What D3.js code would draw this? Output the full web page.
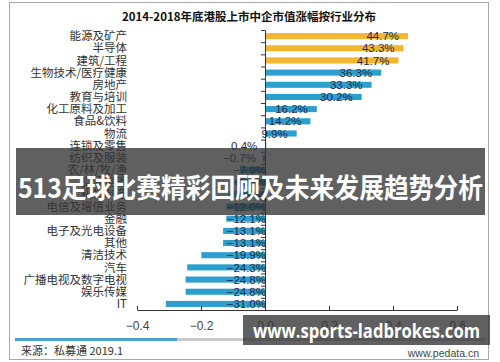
<!DOCTYPE html>
<html>
<head>
<meta charset="utf-8">
<script src="https://cdn.jsdelivr.net/npm/d3@7/dist/d3.min.js"></script>
<style>
  body { margin: 0; background: #fff; }
  svg { display: block; }
</style>
</head>
<body>
<svg id="chart"></svg>
<script>
// 行业分类（由上到下）
const categories = [
  "能源及矿产", "半导体", "建筑/工程", "生物技术/医疗健康", "房地产",
  "教育与培训", "化工原料及加工", "食品&饮料", "物流", "连锁及零售",
  "纺织及服装", "农/林/牧/渔", "交通运输", "机械制造", "电信及增值业务",
  "金融", "电子及光电设备", "其他", "清洁技术", "汽车",
  "广播电视及数字电视", "娱乐传媒", "IT"
];
// 市值涨幅
const values = [
  0.447, 0.433, 0.417, 0.363, 0.333,
  0.302, 0.162, 0.142, 0.099, 0.004,
  -0.007, -0.079, -0.094, -0.113, -0.120,
  -0.121, -0.131, -0.131, -0.199, -0.243,
  -0.248, -0.248, -0.310
];
const topSectors = ["能源及矿产", "半导体", "建筑/工程"];
const xTicks = [-0.4, -0.2, 0.0, 0.2, 0.4, 0.6];

const width = 500, height = 362;
const cjk = "'Noto Sans CJK SC', sans-serif";
const latin = "'Liberation Sans', Arial, sans-serif";

const svg = d3.select("#chart").attr("width", width).attr("height", height);

// 外框
svg.append("rect")
  .attr("x", 9.5).attr("y", 2.5).attr("width", 479).attr("height", 357)
  .attr("fill", "#fff").attr("stroke", "#a8a8a8");

// 标题
svg.append("text")
  .attr("x", 249).attr("y", 21)
  .attr("text-anchor", "middle")
  .attr("font-family", cjk).attr("font-weight", "bold")
  .attr("font-size", 11.5).attr("fill", "#111")
  .text("2014-2018年底港股上市中企市值涨幅按行业分布");

const x = d3.scaleLinear().domain([-0.4, 0.6]).range([137, 457]);
const y = d3.scaleBand().domain(categories).range([30, 310]).paddingInner(0.5).paddingOuter(0.25);
const yIdx = d3.scaleLinear().domain([0, categories.length]).range([30, 310]);

const data = categories.map((c, i) => ({ name: c, value: values[i] }));

// 条形
svg.append("g").selectAll("rect")
  .data(data).join("rect")
  .attr("x", d => x(Math.min(0, d.value)))
  .attr("y", d => y(d.name))
  .attr("width", d => Math.abs(x(d.value) - x(0)))
  .attr("height", y.bandwidth())
  .attr("fill", d => topSectors.includes(d.name) ? "#f2b631" : "#2c9fcf");

// 数值标签
svg.append("g").selectAll("text")
  .data(data).join("text")
  .attr("x", d => d.value >= -0.01 ? x(Math.max(d.value, 0)) - 9 : x(0) + 1)
  .attr("y", d => y(d.name) + y.bandwidth() / 2)
  .attr("dy", "0.36em")
  .attr("text-anchor", "end")
  .attr("font-family", latin).attr("font-size", 11.5)
  .attr("fill", "#1e2b4d")
  .text(d => d3.format(".1f")(d.value * 100) + "%");

// 纵轴
const yAxis = svg.append("g")
  .attr("transform", `translate(${x(0)},0)`)
  .call(d3.axisLeft(yIdx).tickValues(d3.range(categories.length + 1)).tickSize(4).tickSizeOuter(0).tickFormat(""));
yAxis.selectAll("path, line").attr("stroke", "#333");

// 分类标签
svg.append("g").selectAll("text")
  .data(categories).join("text")
  .attr("x", 127)
  .attr("y", d => y(d) + y.bandwidth() / 2)
  .attr("dy", "0.36em")
  .attr("text-anchor", "end")
  .attr("font-family", cjk).attr("font-size", 11.5)
  .attr("fill", "#333")
  .text(d => d);

// 横轴
const xAxis = svg.append("g")
  .attr("transform", "translate(0,310)")
  .call(d3.axisBottom(x).tickValues(xTicks).tickSize(-4).tickSizeOuter(0)
    .tickPadding(11).tickFormat(d3.format(".1f")));
xAxis.selectAll("path, line").attr("stroke", "#333");
xAxis.selectAll("text").attr("font-family", latin).attr("font-size", 12).attr("fill", "#444");

// 底部分隔条
svg.append("rect").attr("x", 15).attr("y", 338).attr("width", 470).attr("height", 3).attr("fill", "#c9c9c9");
svg.append("rect").attr("x", 15).attr("y", 338).attr("width", 162).attr("height", 3).attr("fill", "#4a9fcc");

svg.append("text")
  .attr("x", 21).attr("y", 355)
  .attr("font-family", cjk).attr("font-size", 11).attr("fill", "#333")
  .text("来源：私募通 2019.1");

svg.append("text")
  .attr("x", 479).attr("y", 357)
  .attr("text-anchor", "end")
  .attr("font-family", latin).attr("font-size", 10.5).attr("fill", "#444")
  .text("www.pedata.cn");

// 横幅
svg.append("rect")
  .attr("x", 16).attr("y", 148).attr("width", 469).attr("height", 67)
  .attr("fill", "#333").attr("opacity", 0.78);
svg.append("text")
  .attr("x", 18).attr("y", 198)
  .attr("font-family", cjk).attr("font-weight", "bold")
  .attr("font-size", 27).attr("fill", "#fff")
  .attr("textLength", 465).attr("lengthAdjust", "spacingAndGlyphs")
  .text("513足球比赛精彩回顾及未来发展趋势分析");

svg.append("rect")
  .attr("x", 243).attr("y", 315).attr("width", 247).attr("height", 30)
  .attr("fill", "#333").attr("opacity", 0.78);
svg.append("text")
  .attr("x", 253).attr("y", 338)
  .attr("font-family", "'Open Sans', sans-serif").attr("font-weight", "bold")
  .attr("font-size", 19).attr("fill", "#fff")
  .attr("textLength", 227).attr("lengthAdjust", "spacingAndGlyphs")
  .text("www.sports-ladbrokes.com");
</script>
</body>
</html>
